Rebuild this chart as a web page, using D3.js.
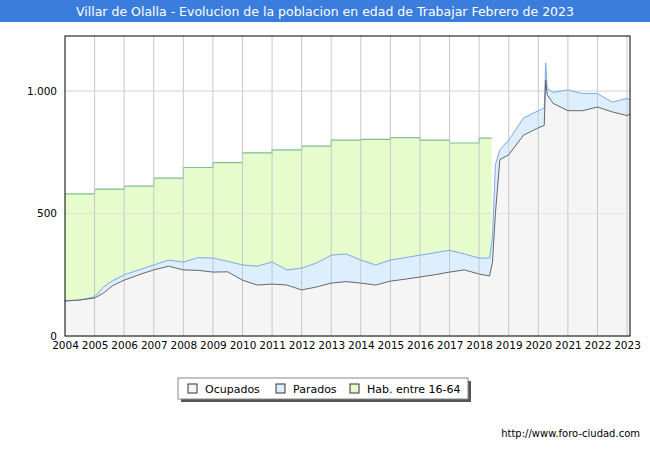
<!DOCTYPE html>
<html><head><meta charset="utf-8">
<script src="https://cdn.jsdelivr.net/npm/d3@7"></script>
<style>body{margin:0;background:#fff}text{font-family:"DejaVu Sans",sans-serif}</style>
</head><body><svg id="c" width="650" height="450"></svg>
<script>
const dates = [2004.0,2004.5,2005.0,2005.3,2005.6,2006.0,2006.5,2007.0,2007.5,2008.0,2008.5,2009.0,2009.5,2010.0,2010.5,2011.0,2011.5,2012.0,2012.5,2013.0,2013.5,2014.0,2014.5,2015.0,2015.5,2016.0,2016.5,2017.0,2017.5,2018.0,2018.35,2018.45,2018.55,2018.7,2019.0,2019.5,2020.0,2020.2,2020.25,2020.3,2020.5,2021.0,2021.5,2022.0,2022.5,2023.0,2023.1];
const ocupados = [143,147,155,175,205,228,250,270,285,270,268,261,262,228,208,212,208,188,200,216,222,216,208,224,232,241,250,261,270,253,245,300,500,720,740,820,850,860,1045,985,950,920,920,935,915,900,905];
const parados = [0,0,5,25,20,22,20,20,25,32,52,57,43,62,77,90,62,89,98,114,113,94,82,86,88,89,90,89,65,65,73,100,200,40,60,70,70,70,70,25,45,85,70,55,40,70,60];
const habYears = [2004,2005,2006,2007,2008,2009,2010,2011,2012,2013,2014,2015,2016,2017,2018,2018.42];
const hab = [580,600,612,645,688,708,748,760,775,800,803,810,800,788,808,808];
const yearTicks = d3.range(2004,2024);
const yTicks = [0,500,1000];

const svg = d3.select("#c");
const m = {l:65,r:630,t:36,b:336};
const x = d3.scaleLinear().domain([2004,2023.1]).range([m.l,m.r]);
const y = d3.scaleLinear().domain([0,1225]).range([m.b,m.t]);

svg.append("rect").attr("width",650).attr("height",22).attr("fill","#3b7ddd");
svg.append("text").attr("x",325).attr("y",16).attr("text-anchor","middle").attr("fill","#fff").attr("font-size",12.5)
  .text("Villar de Olalla - Evolucion de la poblacion en edad de Trabajar Febrero de 2023");

svg.append("g").selectAll("line").data(yTicks).join("line")
  .attr("x1",m.l).attr("x2",m.r).attr("y1",d=>y(d)).attr("y2",d=>y(d)).attr("stroke","#ddd");

const habPts = habYears.map((d,i)=>[d,hab[i]]);
svg.append("path").datum(habPts).attr("fill","#e6fccc")
  .attr("d",d3.area().curve(d3.curveStepAfter).x(d=>x(d[0])).y0(y(0)).y1(d=>y(d[1])));
svg.append("path").datum(habPts).attr("fill","none").attr("stroke","#7fbf8f").attr("stroke-width",1.2)
  .attr("d",d3.line().curve(d3.curveStepAfter).x(d=>x(d[0])).y(d=>y(d[1])));

const pts = dates.map((d,i)=>({d, o:ocupados[i], t:ocupados[i]+parados[i]}));
svg.append("path").datum(pts).attr("fill","#ddeeff")
  .attr("d",d3.area().x(d=>x(d.d)).y0(y(0)).y1(d=>y(d.t)));
svg.append("path").datum(pts).attr("fill","#f5f5f5")
  .attr("d",d3.area().x(d=>x(d.d)).y0(y(0)).y1(d=>y(d.o)));

svg.append("g").selectAll("line").data(yearTicks.slice(1)).join("line")
  .attr("x1",d=>x(d)).attr("x2",d=>x(d)).attr("y1",m.t).attr("y2",m.b).attr("stroke","#c8c8c8");
svg.append("g").selectAll("line").data(yTicks.slice(1)).join("line")
  .attr("x1",m.l).attr("x2",m.r).attr("y1",d=>y(d)).attr("y2",d=>y(d)).attr("stroke","#ddd").attr("opacity",0.7);

svg.append("path").datum(pts).attr("fill","none").attr("stroke","#7fa8e8").attr("stroke-width",1)
  .attr("d",d3.line().x(d=>x(d.d)).y(d=>y(d.t)));
svg.append("path").datum(pts).attr("fill","none").attr("stroke","#666").attr("stroke-width",1)
  .attr("d",d3.line().x(d=>x(d.d)).y(d=>y(d.o)));

svg.append("rect").attr("x",m.l).attr("y",m.t).attr("width",m.r-m.l).attr("height",m.b-m.t)
  .attr("fill","none").attr("stroke","#000");

svg.append("g").attr("transform",`translate(0,${m.b})`)
  .call(d3.axisBottom(x).tickValues(yearTicks).tickFormat(d3.format("d")).tickSize(0).tickPadding(6))
  .call(g=>{g.select(".domain").remove();g.selectAll("text").attr("font-size",10.5).attr("fill","#000");});
svg.append("g").attr("transform",`translate(${m.l},0)`)
  .call(d3.axisLeft(y).tickValues(yTicks).tickFormat(d=>d===1000?"1.000":d).tickSize(0).tickPadding(8))
  .call(g=>{g.select(".domain").remove();g.selectAll("text").attr("font-size",10.5).attr("fill","#000");});

const lg = svg.append("g");
lg.append("rect").attr("x",181).attr("y",381).attr("width",290).attr("height",21).attr("fill","#555");
lg.append("rect").attr("x",178).attr("y",378).attr("width",290).attr("height",21).attr("fill","#fff").attr("stroke","#888");
const items = [["Ocupados","#f5f5f5"],["Parados","#ddeeff"],["Hab. entre 16-64","#e6fccc"]];
const lx = [188,276,350];
items.forEach((it,i)=>{
  lg.append("rect").attr("x",lx[i]).attr("y",384).attr("width",9).attr("height",9).attr("fill",it[1]).attr("stroke","#333");
  lg.append("text").attr("x",lx[i]+17).attr("y",393).attr("font-size",11).text(it[0]);
});

svg.append("text").attr("x",640).attr("y",437).attr("text-anchor","end").attr("font-size",10).text("http://www.foro-ciudad.com");
</script></body></html>
